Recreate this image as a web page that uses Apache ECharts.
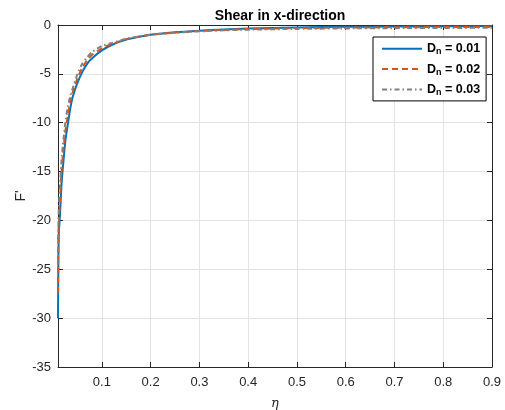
<!DOCTYPE html>
<html>
<head>
<meta charset="utf-8">
<script src="https://cdn.jsdelivr.net/npm/echarts@6/dist/echarts.min.js"></script>
<style>html,body{margin:0;padding:0;background:#fff;}#c{width:505px;height:410px;}</style>
</head>
<body>
<div id="c"></div>
<script>
const eta = [0.01, 0.011, 0.012, 0.014, 0.017, 0.02, 0.025, 0.03, 0.035, 0.04, 0.05, 0.06, 0.07, 0.08, 0.1, 0.12, 0.15, 0.2, 0.25, 0.3, 0.35, 0.4, 0.5, 0.6, 0.7, 0.8, 0.9];
const fD001 = [-30, -23, -21, -19.5, -16.5, -14.6, -11.9, -10.2, -8.6, -7.4, -5.9, -4.8, -3.95, -3.4, -2.6, -2.05, -1.5, -1.0, -0.75, -0.58, -0.45, -0.36, -0.25, -0.19, -0.15, -0.13, -0.11];
const fD002 = [-27.4, -21.5, -19.8, -18, -15.2, -13.4, -10.9, -9.3, -7.9, -6.9, -5.45, -4.35, -3.6, -3.05, -2.38, -1.95, -1.45, -1.0, -0.77, -0.61, -0.5, -0.42, -0.32, -0.27, -0.23, -0.21, -0.2];
const fD003 = [-24.5, -20, -18.5, -16.5, -14, -12.3, -10, -8.4, -7.3, -6.5, -5.0, -3.95, -3.3, -2.75, -2.15, -1.85, -1.4, -1.0, -0.8, -0.65, -0.55, -0.48, -0.4, -0.35, -0.32, -0.3, -0.29];
const seriesNames = ['0.01', '0.02', '0.03'];
const xTicks = [0.1, 0.2, 0.3, 0.4, 0.5, 0.6, 0.7, 0.8, 0.9];
const yMin = -35, yMax = 0, yStep = 5;
const xMin = 0.01, xMax = 0.9;

const zip = (xs, ys) => xs.map((x, i) => [x, ys[i]]);
const font = 'Liberation Sans, Arial, sans-serif';
const axisColor = '#262626';
const gridColor = '#e3e3e3';

const chart = echarts.init(document.getElementById('c'), null, {renderer: 'canvas'});
const baseX = {
  type: 'value', min: xMin, max: xMax,
  axisLine: {show: true, onZero: false, lineStyle: {color: axisColor, width: 1}},
  axisTick: {show: true, inside: true, length: 5, customValues: xTicks, lineStyle: {color: axisColor}},
  splitLine: {show: false}
};
const baseY = {
  type: 'value', min: yMin, max: yMax, interval: yStep,
  axisLine: {show: true, onZero: false, lineStyle: {color: axisColor, width: 1}},
  axisTick: {show: true, inside: true, length: 5, lineStyle: {color: axisColor}},
  splitLine: {show: false}
};
const mk = (name, data, color, type) => ({
  name: name, type: 'line', data: data, showSymbol: false, symbol: 'none', smooth: 0.2,
  xAxisIndex: 0, yAxisIndex: 0,
  lineStyle: {color: color, width: 2, type: type}, itemStyle: {color: color}
});
chart.setOption({
  animation: false,
  backgroundColor: '#fff',
  title: {
    text: 'Shear in x-direction', left: 275, top: 4, textAlign: 'center',
    textStyle: {fontFamily: font, fontSize: 14, fontWeight: 'bold', color: '#000'}
  },
  grid: {left: 58, right: 13, top: 25, bottom: 43, containLabel: false, outerBoundsMode: 'none'},
  xAxis: [
    Object.assign({}, baseX, {
      position: 'bottom',
      axisLabel: {show: true, customValues: xTicks, margin: 9, color: axisColor, fontFamily: font, fontSize: 13},
      splitLine: {show: true, lineStyle: {color: gridColor, width: 1}},
      name: 'η', nameLocation: 'middle', nameGap: 30,
      nameTextStyle: {fontFamily: 'DejaVu Serif, serif', fontStyle: 'italic', fontSize: 13, color: axisColor}
    }),
    Object.assign({}, baseX, {position: 'top', axisLabel: {show: false}})
  ],
  yAxis: [
    Object.assign({}, baseY, {
      position: 'left',
      axisLabel: {show: true, margin: 7, color: axisColor, fontFamily: font, fontSize: 13},
      splitLine: {show: true, lineStyle: {color: gridColor, width: 1}},
      name: "F'", nameLocation: 'middle', nameGap: 30, nameRotate: 90, nameMoveOverlap: false,
      nameTextStyle: {fontFamily: font, fontSize: 14, color: axisColor}
    }),
    Object.assign({}, baseY, {position: 'right', axisLabel: {show: false}})
  ],
  legend: {
    orient: 'vertical', left: 373, top: 37,
    backgroundColor: '#fff', borderColor: '#000', borderWidth: 1,
    padding: [5, 6, 4, 8], itemGap: 6, itemWidth: 40, itemHeight: 17,
    itemStyle: {opacity: 0},
    data: seriesNames.map(n => ({name: n})),
    formatter: n => '{d|D}{s|n}{d| = ' + n + '}',
    textStyle: {
      fontFamily: font, fontSize: 12, fontWeight: 'bold', color: '#000',
      rich: {
        d: {fontFamily: font, fontSize: 12.5, fontWeight: 'bold', color: '#000'},
        s: {fontFamily: font, fontSize: 9, fontWeight: 'bold', color: '#000', verticalAlign: 'bottom', padding: [6, 0, 0, 0]}
      }
    }
  },
  series: [
    mk(seriesNames[0], zip(eta, fD001), '#0072BD', 'solid'),
    mk(seriesNames[1], zip(eta, fD002), '#D95319', [6, 4]),
    mk(seriesNames[2], zip(eta, fD003), '#808080', [5, 3, 1.5, 3])
  ]
});
</script>
</body>
</html>
